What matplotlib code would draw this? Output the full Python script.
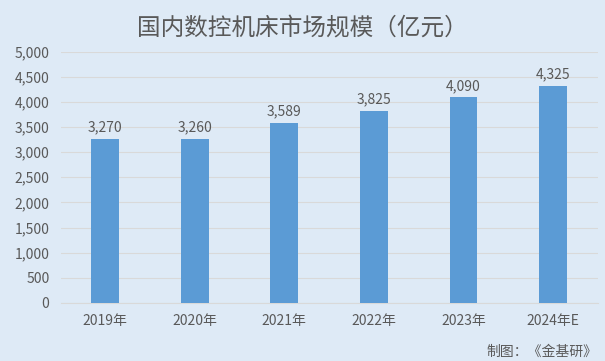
import matplotlib
matplotlib.use("Agg")
import matplotlib.pyplot as plt
from matplotlib.ticker import FuncFormatter, MultipleLocator

plt.rcParams['font.family'] = ['Noto Sans CJK SC', 'DejaVu Sans']

categories = ["2019年", "2020年", "2021年", "2022年", "2023年", "2024年E"]
values = [3270, 3260, 3589, 3825, 4090, 4325]
title = "国内数控机床市场规模（亿元）"
source = "制图：《金基研》"

bg = "#DEEAF6"
bar_color = "#5B9BD5"
text_color = "#595959"
grid_color = "#D9D9D9"

fig = plt.figure(figsize=(6.05, 3.61), dpi=100, facecolor=bg)
ax = fig.add_axes([0.1, 0.161, 0.888, 0.696])
ax.set_facecolor(bg)

x = range(len(categories))
bars = ax.bar(x, values, width=0.31, color=bar_color, zorder=3)
for xi, v in zip(x, values):
    ax.text(xi, v + 90, f"{v:,}", ha="center", va="bottom", fontsize=10, color=text_color)

ax.set_xlim(-0.5, len(categories) - 0.5)
ax.set_ylim(0, 5000)
ax.yaxis.set_major_locator(MultipleLocator(500))
ax.yaxis.set_major_formatter(FuncFormatter(lambda v, p: f"{int(v):,}"))
ax.set_xticks(list(x))
ax.set_xticklabels(categories)
ax.tick_params(axis="both", length=0, labelsize=10, colors=text_color)
ax.tick_params(axis="x", pad=8)
ax.tick_params(axis="y", pad=8)
ax.grid(axis="y", color=grid_color, linewidth=0.8, zorder=0)
for s in ["top", "right", "left"]:
    ax.spines[s].set_visible(False)
ax.spines["bottom"].set_color(grid_color)
ax.spines["bottom"].set_linewidth(0.8)

fig.text(0.499, 0.922, title, ha="center", va="center", fontsize=17, color=text_color)
fig.text(0.988, 0.025, source, ha="right", va="center", fontsize=10, color=text_color)

fig.savefig("out.png", dpi=100, facecolor=bg)
